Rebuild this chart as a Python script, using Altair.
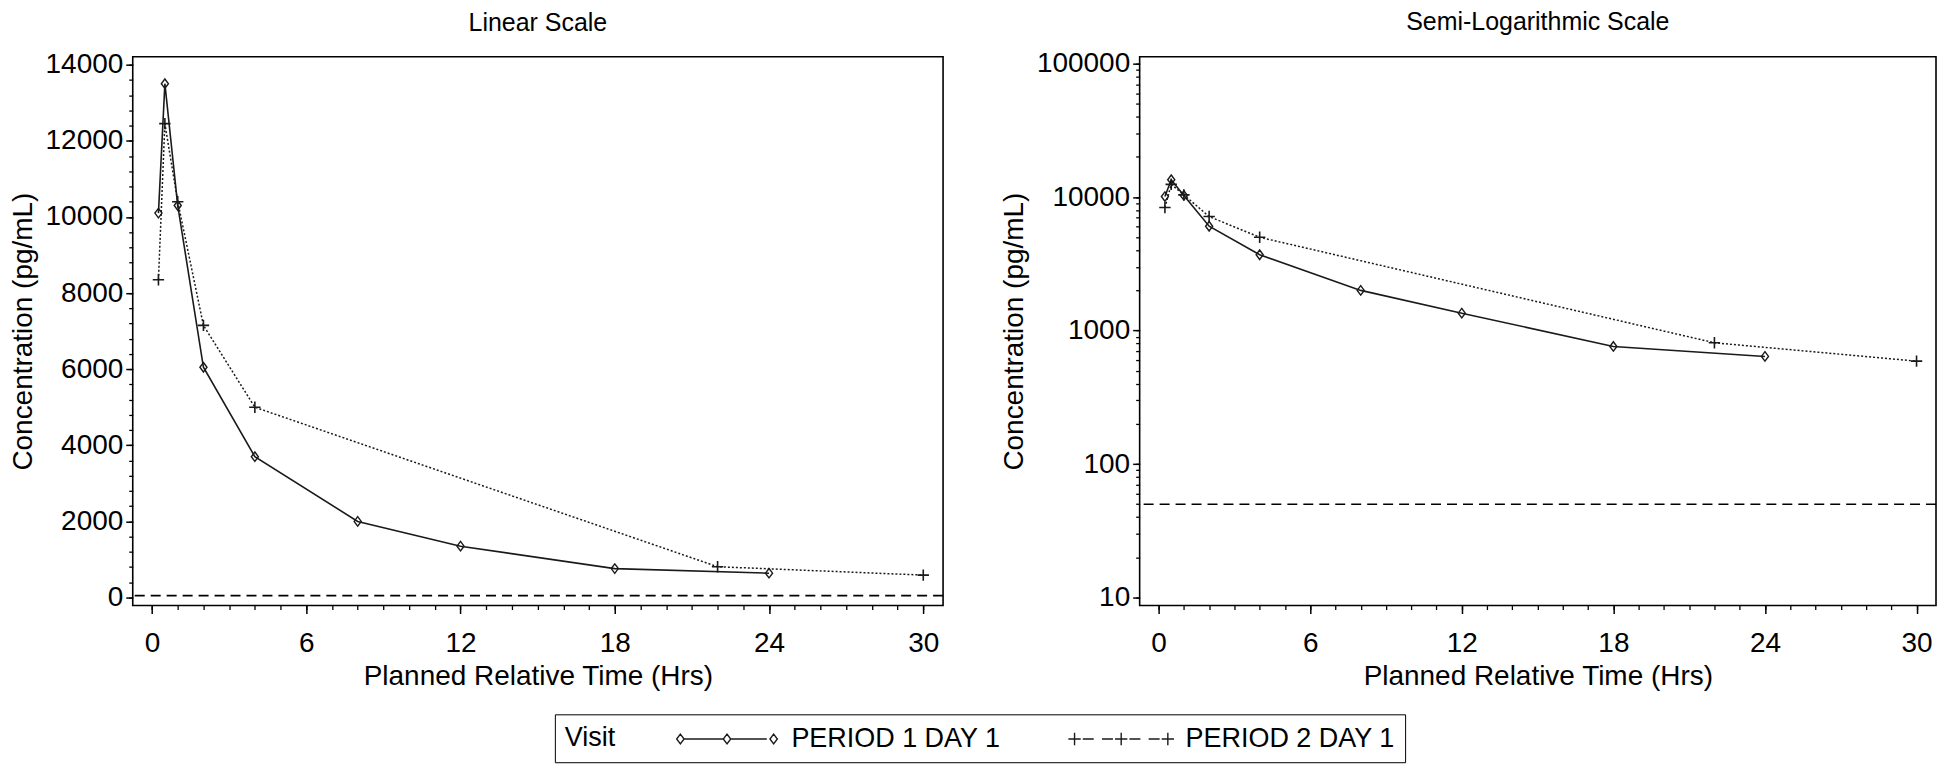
import altair as alt
import pandas as pd

# ---- data ----
visits = ["PERIOD 1 DAY 1", "PERIOD 2 DAY 1"]
p1_time = [0.25, 0.5, 1, 2, 4, 8, 12, 18, 24]
p1_conc = [10100, 13500, 10300, 6050, 3700, 2000, 1350, 760, 640]
p2_time = [0.25, 0.5, 1, 2, 4, 22, 30]
p2_conc = [8350, 12450, 10400, 7150, 5000, 810, 590]
lloq = [50]

x_major = [0, 6, 12, 18, 24, 30]
x_minor = list(range(0, 31))
lin_major = [0, 2000, 4000, 6000, 8000, 10000, 12000, 14000]
lin_minor = list(range(0, 14001, 400))
log_major = [10, 100, 1000, 10000, 100000]
log_minor = [m * 10 ** e for e in range(1, 5) for m in range(1, 10)] + [100000]

df = pd.DataFrame({
    "time": p1_time + p2_time,
    "conc": p1_conc + p2_conc,
    "visit": [visits[0]] * len(p1_time) + [visits[1]] * len(p2_time),
})
df_lloq = pd.DataFrame({"conc": lloq})

FONT = "Liberation Sans"
FS = 28
X_DOM = [-0.75, 30.77]
LIN_DOM = [-210, 14210]
LOG_DOM = [8.7, 112800]
INK = "#1a1a1a"

diamond = "M0,-1L0.75,0L0,1L-0.75,0Z"
plus = "M-1,0H1M0,-1V1"

# legend symbols: line with three markers (path units scaled by sqrt(size)/2)
leg1 = ("M-3.1,0H-0.3M0.3,0H2.9"
        "M-3.4,-0.36L-3.13,0L-3.4,0.36L-3.67,0Z"
        "M0,-0.36L0.27,0L0,0.36L-0.27,0Z"
        "M3.4,-0.36L3.67,0L3.4,0.36L3.13,0Z")
leg2 = ("M-3.85,0H-2.95M-3.4,-0.45V0.45"
        "M-0.45,0H0.45M0,-0.45V0.45"
        "M2.95,0H3.85M3.4,-0.45V0.45"
        "M-2.8,0H-2.0M-1.4,0H-0.6"
        "M0.6,0H1.4M2.0,0H2.8")


def panel(title, ytype, ydom, ymajor, yminor, yfmt, w, with_legend):
    xs = alt.Scale(domain=X_DOM, nice=False, zero=False)
    ys = alt.Scale(type=ytype, domain=ydom, nice=False, zero=False)
    xax = alt.Axis(values=x_major, title="Planned Relative Time (Hrs)", grid=False,
                   domain=False, tickSize=8, tickWidth=1.5, tickColor="black",
                   labelFont=FONT, labelFontSize=FS, labelColor="black", labelPadding=16,
                   titleFont=FONT, titleFontSize=FS, titleFontWeight="normal",
                   titleColor="black", titlePadding=5, labelFlush=False)
    yax = alt.Axis(values=ymajor, title="Concentration (pg/mL)", grid=False, format=yfmt,
                   domain=False, tickSize=7, tickWidth=1.5, tickColor="black",
                   labelFont=FONT, labelFontSize=FS, labelColor="black", labelPadding=3,
                   titleFont=FONT, titleFontSize=FS, titleFontWeight="normal",
                   titleColor="black", titlePadding=8, labelFlush=False)
    X = alt.X("time:Q", scale=xs, axis=xax)
    Y = alt.Y("conc:Q", scale=ys, axis=yax)
    base = alt.Chart(df)
    lines1 = base.transform_filter(alt.datum.visit == visits[0]).mark_line(
        color=INK, strokeWidth=1.6).encode(x=X, y=Y)
    lines2 = base.transform_filter(alt.datum.visit == visits[1]).mark_line(
        color=INK, strokeWidth=1.5, strokeDash=[2, 2]).encode(x=X, y=Y)
    pts1 = base.transform_filter(alt.datum.visit == visits[0]).mark_point(
        shape=diamond, size=90, filled=False, color=INK, strokeWidth=1.4, opacity=1).encode(
        x=X, y=Y)
    pts2 = base.transform_filter(alt.datum.visit == visits[1]).mark_point(
        shape=plus, size=130, filled=False, color=INK, strokeWidth=1.6, opacity=1).encode(
        x=X, y=Y)
    rule = alt.Chart(df_lloq).mark_rule(color="black", strokeWidth=1.6,
                                        strokeDash=[10, 6]).encode(y=Y)
    layers = [lines1, lines2, rule, pts1, pts2]
    if with_legend:
        leg = base.transform_filter("false").mark_point(filled=False, opacity=1).encode(
            x=X, y=Y,
            shape=alt.Shape("visit:N", scale=alt.Scale(domain=visits, range=[leg1, leg2]),
                            legend=alt.Legend(
                                orient="none", legendX=423, legendY=659,
                                direction="horizontal", title="Visit", titleOrient="left",
                                titleFont=FONT, titleFontSize=27, titleFontWeight="normal",
                                titleColor="black", titlePadding=64,
                                labelFont=FONT, labelFontSize=27, labelColor="black",
                                labelLimit=500,
                                symbolSize=756, symbolStrokeColor=INK, symbolOpacity=1,
                                symbolFillColor="white", symbolStrokeWidth=1.4,
                                symbolOffset=33, labelOffset=50, columnPadding=64,
                                strokeColor="black", fillColor="white", padding=10)))
        layers.append(leg)
    inner = alt.layer(*layers)
    minor = alt.Chart(df).mark_point(opacity=0).encode(
        x=alt.X("time:Q", scale=alt.Scale(domain=X_DOM, nice=False, zero=False),
                axis=alt.Axis(values=x_minor, labels=False, title=None, grid=False,
                              domain=False, tickSize=4, tickWidth=1.3, tickColor="black",
                              orient="bottom")),
        y=alt.Y("conc:Q", scale=alt.Scale(type=ytype, domain=ydom, nice=False, zero=False),
                axis=alt.Axis(values=yminor, labels=False, title=None, grid=False,
                              domain=False, tickSize=4, tickWidth=1.3, tickColor="black",
                              orient="left")))
    return alt.layer(inner, minor).resolve_scale(x="independent", y="independent").properties(
        width=w, height=550,
        title=alt.TitleParams(title, font=FONT, fontSize=25, fontWeight="normal",
                              color="black", anchor="middle", offset=15))


left = panel("Linear Scale", "linear", LIN_DOM, lin_major, lin_minor, "d", 812, True)
right = panel("Semi-Logarithmic Scale", "log", LOG_DOM, log_major, log_minor, "d", 798, False)

chart = alt.hconcat(left, right, spacing=54).properties(padding=0).configure_view(
    stroke="black", strokeWidth=1.6)

chart.save("out.html", embed_options={"renderer": "svg", "actions": False})
